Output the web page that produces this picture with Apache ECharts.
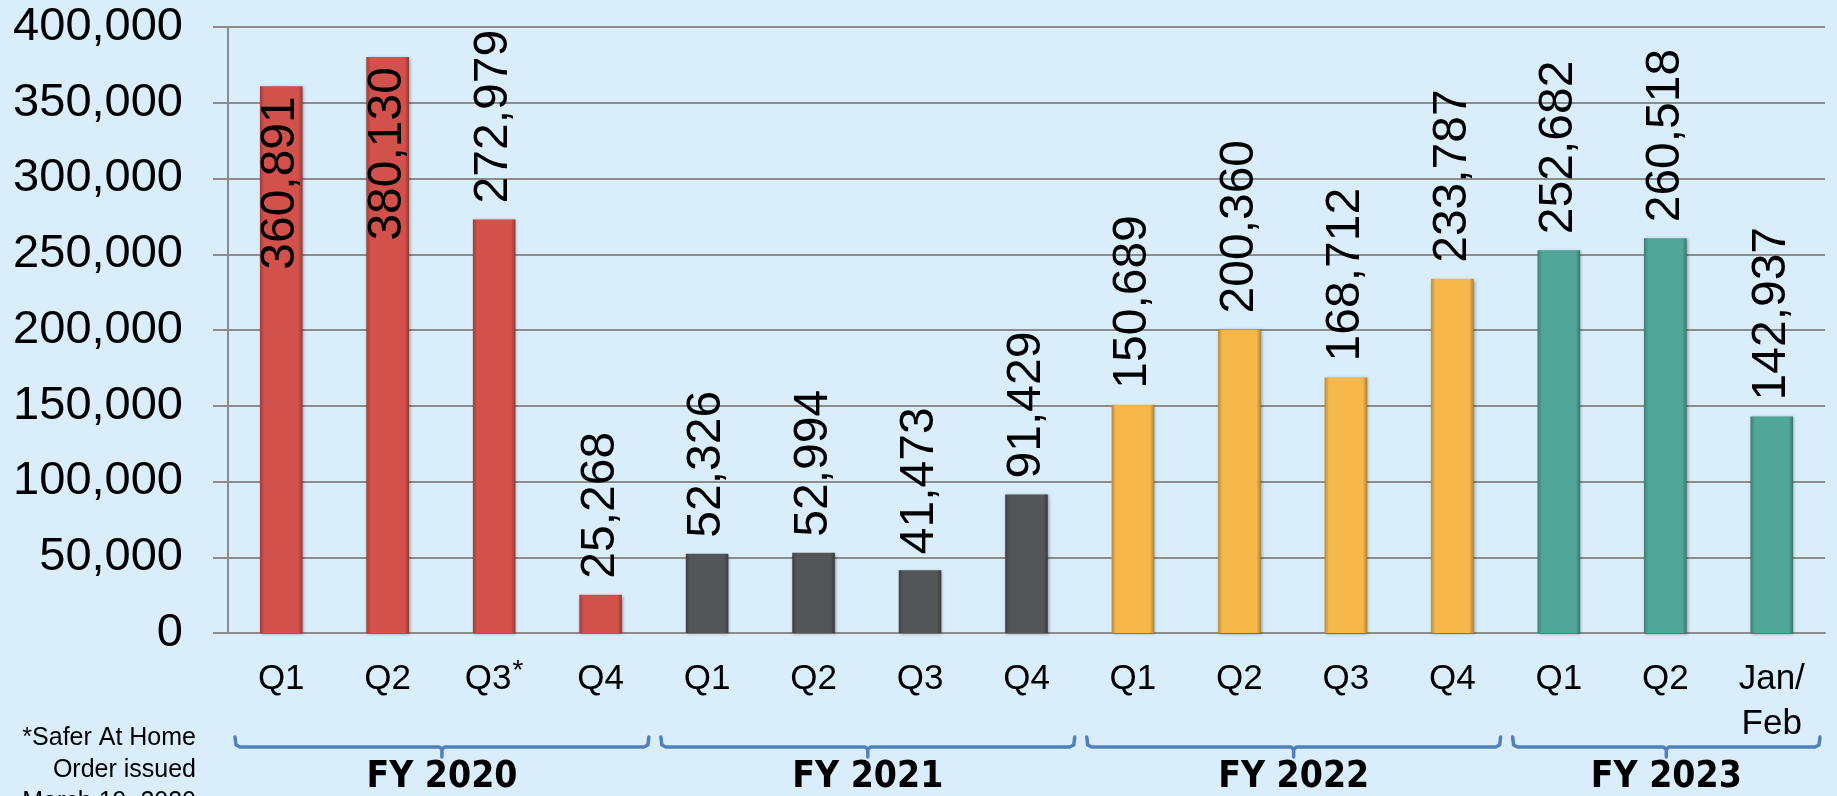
<!DOCTYPE html>
<html style="height: 100%">
<head>
    <meta charset="utf-8">
</head>
<body style="height: 100%; margin: 0; background: #d9edfa">
<div id="container" style="width: 1837px; height: 796px"></div>
<script type="text/javascript" src="https://cdn.jsdelivr.net/npm/echarts@6/dist/echarts.min.js"></script>
<script type="text/javascript">
var categories = ['Q1', 'Q2', 'Q3*', 'Q4', 'Q1', 'Q2', 'Q3', 'Q4', 'Q1', 'Q2', 'Q3', 'Q4', 'Q1', 'Q2', 'Jan/\nFeb'];
var values = [360891, 380130, 272979, 25268, 52326, 52994, 41473, 91429, 150689, 200360, 168712, 233787, 252682, 260518, 142937];
var fiscalYears = ['FY 2020', 'FY 2021', 'FY 2022', 'FY 2023'];
var barsPerYear = [4, 4, 4, 3];
var yearColors = ['#d2514a', '#545559', '#f6b84b', '#50a698'];
var footnote = ['*Safer At Home', 'Order issued', 'March 19, 2020'];

var dom = document.getElementById('container');
var myChart = echarts.init(dom);

function shade(hex, f) {
    var n = parseInt(hex.slice(1), 16);
    var r = Math.min(255, Math.round(((n >> 16) & 255) * f));
    var g = Math.min(255, Math.round(((n >> 8) & 255) * f));
    var b = Math.min(255, Math.round((n & 255) * f));
    return 'rgb(' + r + ',' + g + ',' + b + ')';
}

function barFill(hex) {
    return new echarts.graphic.LinearGradient(0, 0, 1, 0, [
        {offset: 0, color: shade(hex, 0.75)},
        {offset: 0.1, color: hex},
        {offset: 0.9, color: hex},
        {offset: 1, color: shade(hex, 0.7)}
    ]);
}

// which fiscal year each bar belongs to
var yearOf = [];
barsPerYear.forEach(function (n, g) {
    for (var k = 0; k < n; k++) yearOf.push(g);
});

var labelBase = {
    show: true,
    rotate: 90,
    fontSize: 48,
    fontFamily: 'Liberation Sans, Arial, sans-serif',
    color: '#000',
    verticalAlign: 'middle',
    formatter: function (p) { return p.value.toLocaleString('en-US'); }
};

var barData = values.map(function (v, i) {
    // labels that would run past the top of the plot go inside the bar
    var inside = v > 300000;
    return {
        value: v,
        itemStyle: {color: barFill(yearColors[yearOf[i]])},
        label: inside
            ? {position: 'insideTop', align: 'right', distance: 10}
            : {position: 'top', align: 'left', distance: 16}
    };
});

option = {
    backgroundColor: '#d9edfa',
    animation: false,
    grid: {
        left: 228,
        right: 12,
        top: 27,
        bottom: 163,
        containLabel: false,
        outerBoundsMode: 'none'
    },
    xAxis: {
        type: 'category',
        data: categories,
        axisLine: {lineStyle: {color: '#8c8c8c', width: 2}},
        axisTick: {length: 12, lineStyle: {color: '#8c8c8c', width: 2}},
        axisLabel: {
            interval: 0,
            margin: 24,
            fontSize: 35,
            lineHeight: 45,
            fontFamily: 'Liberation Sans, Arial, sans-serif',
            color: '#000',
            formatter: function (v) { return v.replace('*', '{sup|*}'); },
            rich: {
                sup: {
                    fontSize: 28,
                    lineHeight: 28,
                    padding: [0, 0, 18, 1],
                    verticalAlign: 'top',
                    fontFamily: 'Liberation Sans, Arial, sans-serif',
                    color: '#000'
                }
            }
        }
    },
    yAxis: {
        type: 'value',
        min: 0,
        max: 400000,
        interval: 50000,
        axisLine: {show: true, lineStyle: {color: '#8c8c8c', width: 2}},
        axisTick: {show: true, length: 15, lineStyle: {color: '#8c8c8c', width: 2}},
        splitLine: {lineStyle: {color: '#8c8c8c', width: 2}},
        axisLabel: {
            margin: 45,
            fontSize: 47,
            fontFamily: 'Liberation Sans, Arial, sans-serif',
            color: '#000',
            formatter: function (v) { return v.toLocaleString('en-US'); }
        }
    },
    series: [{
        type: 'bar',
        barWidth: '40%',
        data: barData,
        label: labelBase,
        itemStyle: {
            shadowBlur: 3,
            shadowColor: 'rgba(0,0,0,0.35)',
            shadowOffsetX: 1,
            shadowOffsetY: 1
        }
    }]
};

myChart.setOption(option, true);

// year brackets and footnote, placed from the category axis
var x0 = myChart.convertToPixel({xAxisIndex: 0}, 0);
var band = myChart.convertToPixel({xAxisIndex: 0}, 1) - x0;
var graphics = [];
var start = 0;
barsPerYear.forEach(function (n, g) {
    var left = x0 - band / 2 + start * band + 7;
    var right = x0 - band / 2 + (start + n) * band - 5;
    var mid = (left + right) / 2;
    graphics.push({
        type: 'polyline',
        shape: {
            points: [[left, 737], [left + 1, 745], [left + 5, 747], [mid - 3, 747], [mid, 749], [mid, 757],
                     [mid, 749], [mid + 3, 747], [right - 5, 747], [right - 1, 745], [right, 737]]
        },
        style: {stroke: '#4f81bd', lineWidth: 3.5, fill: null, lineJoin: 'round', lineCap: 'round'}
    });
    graphics.push({
        type: 'text',
        x: mid,
        y: 777,
        style: {
            text: fiscalYears[g],
            fontSize: 37,
            fontWeight: 'bold',
            fontFamily: 'DejaVu Sans Condensed, DejaVu Sans, sans-serif',
            fill: '#000',
            align: 'center',
            verticalAlign: 'middle'
        }
    });
    start += n;
});
graphics.push({
    type: 'text',
    x: 196,
    y: 722,
    style: {
        text: footnote.join('\n'),
        fontSize: 25,
        lineHeight: 32,
        fontFamily: 'Liberation Sans, Arial, sans-serif',
        fill: '#000',
        align: 'right',
        verticalAlign: 'top'
    }
});
myChart.setOption({graphic: graphics});
</script>
</body>
</html>
